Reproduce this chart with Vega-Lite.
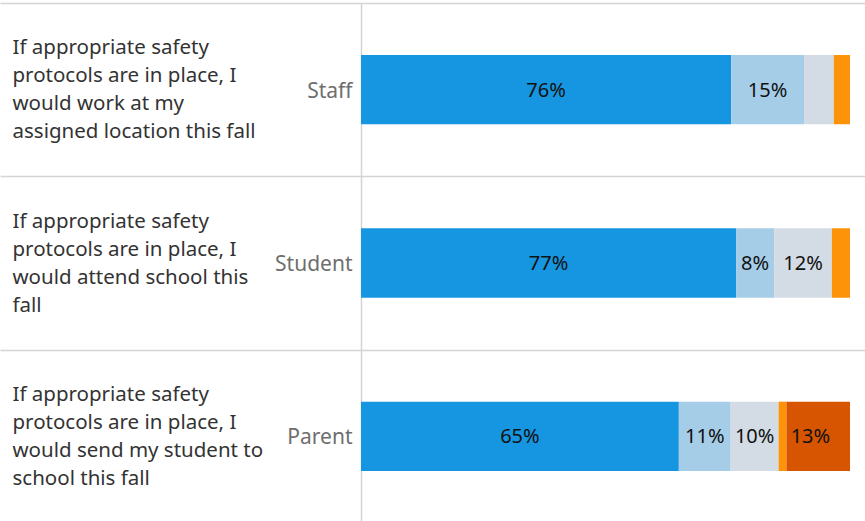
{
  "$schema": "https://vega.github.io/schema/vega-lite/v6.json",
  "width": 504,
  "height": 520,
  "padding": {"left": 361, "top": 3, "right": 0, "bottom": 0},
  "autosize": {"type": "none"},
  "background": "white",
  "config": {
    "view": {"stroke": null},
    "font": "Noto Sans"
  },
  "data": {
    "values": [
      {"group": "Staff", "question": "If appropriate safety\nprotocols are in place, I\nwould work at my\nassigned location this fall", "response": "Strongly agree", "rank": 1, "share": 0.757},
      {"group": "Staff", "question": "If appropriate safety\nprotocols are in place, I\nwould work at my\nassigned location this fall", "response": "Agree", "rank": 2, "share": 0.149},
      {"group": "Staff", "question": "If appropriate safety\nprotocols are in place, I\nwould work at my\nassigned location this fall", "response": "Neutral", "rank": 3, "share": 0.061},
      {"group": "Staff", "question": "If appropriate safety\nprotocols are in place, I\nwould work at my\nassigned location this fall", "response": "Disagree", "rank": 4, "share": 0.033},
      {"group": "Student", "question": "If appropriate safety\nprotocols are in place, I\nwould attend school this\nfall", "response": "Strongly agree", "rank": 1, "share": 0.767},
      {"group": "Student", "question": "If appropriate safety\nprotocols are in place, I\nwould attend school this\nfall", "response": "Agree", "rank": 2, "share": 0.078},
      {"group": "Student", "question": "If appropriate safety\nprotocols are in place, I\nwould attend school this\nfall", "response": "Neutral", "rank": 3, "share": 0.118},
      {"group": "Student", "question": "If appropriate safety\nprotocols are in place, I\nwould attend school this\nfall", "response": "Disagree", "rank": 4, "share": 0.037},
      {"group": "Parent", "question": "If appropriate safety\nprotocols are in place, I\nwould send my student to\nschool this fall", "response": "Strongly agree", "rank": 1, "share": 0.65},
      {"group": "Parent", "question": "If appropriate safety\nprotocols are in place, I\nwould send my student to\nschool this fall", "response": "Agree", "rank": 2, "share": 0.106},
      {"group": "Parent", "question": "If appropriate safety\nprotocols are in place, I\nwould send my student to\nschool this fall", "response": "Neutral", "rank": 3, "share": 0.098},
      {"group": "Parent", "question": "If appropriate safety\nprotocols are in place, I\nwould send my student to\nschool this fall", "response": "Disagree", "rank": 4, "share": 0.016},
      {"group": "Parent", "question": "If appropriate safety\nprotocols are in place, I\nwould send my student to\nschool this fall", "response": "Strongly disagree", "rank": 5, "share": 0.13}
    ]
  },
  "resolve": {"scale": {"y": "independent"}, "axis": {"y": "independent"}},
  "layer": [
    {
      "transform": [{"filter": "datum.rank == 1"}],
      "mark": {"type": "text", "opacity": 0},
      "encoding": {
        "y": {
          "field": "question", "type": "nominal", "sort": null,
          "scale": {"paddingInner": 0, "paddingOuter": 0},
          "axis": {
            "title": null, "orient": "left", "domain": false,
            "grid": true, "gridColor": "#d4d4d4", "gridWidth": 1.5,
            "ticks": true, "tickBand": "extent", "tickSize": 361, "tickColor": "#d4d4d4", "tickWidth": 1.5,
            "labelAlign": "left", "labelPadding": -12, "labelLimit": 0, "labelOffset": -42,
            "labelExpr": "split(datum.label, '\\n')",
            "labelFont": "Noto Sans", "labelFontSize": 20.5, "labelLineHeight": 28, "labelColor": "#333333"
          }
        },
        "text": {"value": ""}
      }
    },
    {
      "mark": {"type": "bar"},
      "encoding": {
        "y": {
          "field": "group", "type": "nominal", "sort": ["Staff", "Student", "Parent"],
          "scale": {"paddingInner": 0.6, "paddingOuter": 0.3},
          "axis": {
            "title": null, "orient": "left", "ticks": false, "domain": true,
            "domainColor": "#d4d4d4", "domainWidth": 1.5, "grid": false,
            "labelFont": "Noto Sans", "labelFontSize": 21, "labelColor": "#6e6e6e",
            "labelPadding": 9, "labelLimit": 0, "labelOffset": 2
          }
        },
        "x": {
          "field": "share", "type": "quantitative", "stack": "zero",
          "scale": {"domain": [0, 1.0307], "nice": false, "zero": true},
          "axis": null
        },
        "order": {"field": "rank", "type": "quantitative"},
        "color": {
          "field": "response", "type": "nominal", "legend": null,
          "scale": {
            "domain": ["Strongly agree", "Agree", "Neutral", "Disagree", "Strongly disagree"],
            "range": ["#1696e0", "#a6cde8", "#d3dbe4", "#fd9309", "#d75500"]
          }
        }
      }
    },
    {
      "transform": [{"filter": "datum.share >= 0.075"}],
      "mark": {"type": "text", "font": "Noto Sans", "fontSize": 20, "color": "#111111", "baseline": "middle", "align": "center", "dy": 1},
      "encoding": {
        "y": {
          "field": "group", "type": "nominal", "sort": ["Staff", "Student", "Parent"],
          "scale": {"paddingInner": 0.6, "paddingOuter": 0.3},
          "axis": null
        },
        "x": {
          "field": "share", "type": "quantitative", "stack": "zero", "bandPosition": 0.5,
          "scale": {"domain": [0, 1.0307], "nice": false, "zero": true},
          "axis": null
        },
        "order": {"field": "rank", "type": "quantitative"},
        "detail": {"field": "response"},
        "text": {"field": "share", "type": "quantitative", "format": ".0%"}
      }
    }
  ]
}
